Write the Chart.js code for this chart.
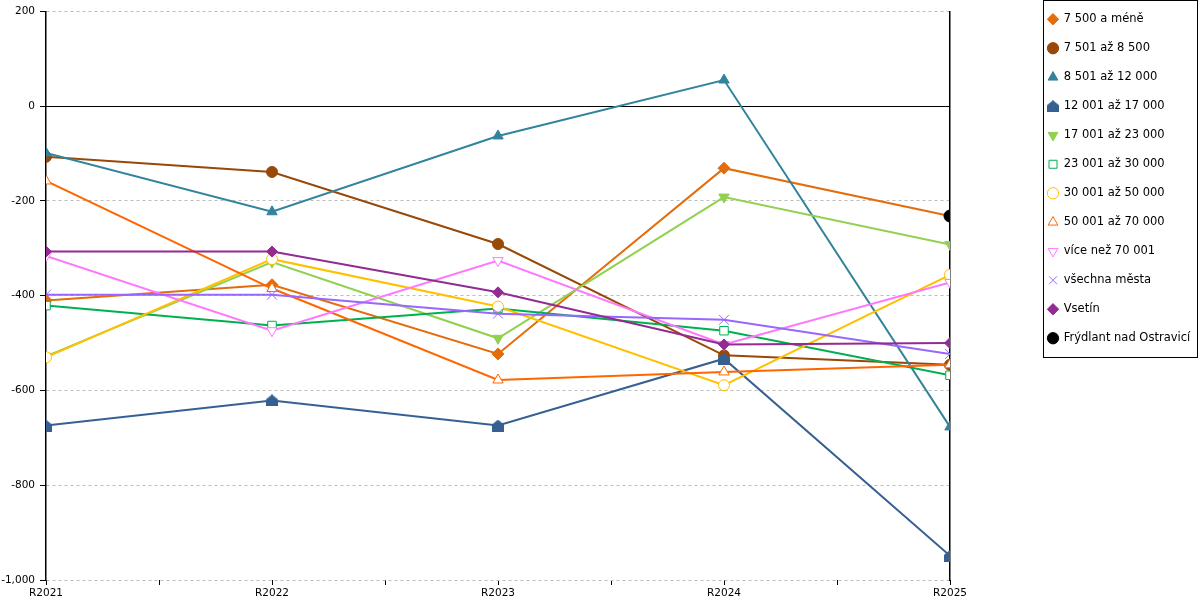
<!DOCTYPE html>
<html>
<head>
<meta charset="utf-8">
<script src="https://cdn.jsdelivr.net/npm/chart.js@4/dist/chart.umd.min.js"></script>
<style>
  html, body { margin: 0; padding: 0; background: #fff; }
  #wrap { width: 1200px; height: 600px; }
</style>
</head>
<body>
<div id="wrap"><canvas id="graf"></canvas></div>
<script>
// Kategorie a hodnoty
var roky = ["R2021", "R2022", "R2023", "R2024", "R2025"];
var yTicks = [200, 0, -200, -400, -600, -800, -1000];

var s7500 = [-410, -377, -523, -131, -232];
var s8500 = [-107, -139, -291, -526, -546];
var s12000 = [-99, -223, -63, 55, -677];
var s17000 = [-674, -621, -674, -533, -949];
var s23000 = [-528, -329, -490, -192, -292];
var s30000 = [-421, -463, -427, -474, -568];
var s50000 = [-530, -323, -423, -589, -356];
var s70000 = [-158, -385, -578, -561, -546];
var sVice = [-316, -474, -326, -503, -372];
var sVsechna = [-398, -398, -438, -451, -523];
var sVsetin = [-307, -307, -393, -503, -500];
var sFrydlant = [null, null, null, null, -232];

// domecek (12 001 až 17 000) jako vlastni znacka
function domecek(color, s) {
    var c = document.createElement("canvas");
    c.width = s; c.height = s;
    var g = c.getContext("2d");
    var h = s / 2;
    g.fillStyle = color;
    g.beginPath();
    g.moveTo(h, 0);
    g.lineTo(s, h - 1);
    g.lineTo(s, s);
    g.lineTo(0, s);
    g.lineTo(0, h - 1);
    g.closePath();
    g.fill();
    return c;
}

function body(arr) {
    return arr.map(function (v, i) { return { x: i, y: v }; });
}

function serie(label, arr, color, style, opts) {
    var ds = {
        label: label,
        data: body(arr),
        borderColor: color,
        backgroundColor: color,
        pointBorderColor: color,
        pointBackgroundColor: color,
        pointStyle: style,
        pointRadius: 6,
        pointHoverRadius: 6,
        pointBorderWidth: 1,
        borderWidth: 2,
        tension: 0,
        spanGaps: false
    };
    for (var k in opts) ds[k] = opts[k];
    return ds;
}

var datasets = [
    serie("7 500 a méně", s7500, "#E46C0A", "rectRot", {}),
    serie("7 501 až 8 500", s8500, "#984807", "circle", { pointRadius: 5.5 }),
    serie("8 501 až 12 000", s12000, "#31849B", "triangle", {}),
    serie("12 001 až 17 000", s17000, "#376092", domecek("#376092", 12), {}),
    serie("17 001 až 23 000", s23000, "#92D050", "triangle", { rotation: 180 }),
    serie("23 001 až 30 000", s30000, "#00B050", "rect", { pointBackgroundColor: "#fff", backgroundColor: "#fff" }),
    serie("30 001 až 50 000", s50000, "#FFC000", "circle", { pointBackgroundColor: "#fff", backgroundColor: "#fff", pointRadius: 5.5 }),
    serie("50 001 až 70 000", s70000, "#FF6600", "triangle", { pointBackgroundColor: "#fff", backgroundColor: "#fff" }),
    serie("více než 70 001", sVice, "#FF77FF", "triangle", { rotation: 180, pointBackgroundColor: "#fff", backgroundColor: "#fff" }),
    serie("všechna města", sVsechna, "#9966FF", "crossRot", { pointRadius: 7 }),
    serie("Vsetín", sVsetin, "#922B92", "rectRot", { pointRadius: 5.5 }),
    serie("Frýdlant nad Ostravicí", sFrydlant, "#000000", "circle", { showLine: false })
];
// pozdejsi serie kreslit navrch
datasets.forEach(function (d, i) { d.order = datasets.length - i; });

// nulova cara + ramecek legendy
var doplnky = {
    id: "doplnky",
    afterLayout: function (chart) {
        var lg = chart.legend;
        var dx = 1053 - (lg.left + lg.options.labels.padding + 5);
        lg.top -= 14;
        lg.bottom -= 14;
        lg.left += dx;
        lg.right += dx;
    },
    beforeDatasetsDraw: function (chart) {
        var ctx = chart.ctx, a = chart.chartArea;
        var y0 = Math.round(chart.scales.y.getPixelForValue(0)) + 0.5;
        ctx.save();
        ctx.strokeStyle = "#000";
        ctx.lineWidth = 1;
        ctx.beginPath();
        ctx.moveTo(a.left, y0);
        ctx.lineTo(a.right, y0);
        ctx.stroke();
        ctx.restore();
    },
    afterDraw: function (chart) {
        var ctx = chart.ctx;
        ctx.save();
        ctx.strokeStyle = "#000";
        ctx.lineWidth = 1;
        ctx.strokeRect(1043.5, 0.5, 154, 357);
        ctx.restore();
    }
};

var ctxGraf = document.getElementById("graf").getContext("2d");
var graf = new Chart(ctxGraf, {
    type: "line",
    data: { datasets: datasets },
    plugins: [doplnky],
    options: {
        responsive: true,
        maintainAspectRatio: false,
        animation: false,
        layout: { padding: { top: 10, bottom: 0, left: 0, right: 2 } },
        font: { family: "'DejaVu Sans', sans-serif", size: 12 },
        plugins: {
            tooltip: { enabled: false },
            legend: {
                position: "right",
                align: "start",
                labels: {
                    usePointStyle: true,
                    boxWidth: 10,
                    boxHeight: 8,
                    padding: 17.5,
                    color: "#000",
                    font: { family: "'DejaVu Sans', sans-serif", size: 11.5 },
                    sort: function (a, b) { return a.datasetIndex - b.datasetIndex; }
                }
            }
        },
        scales: {
            x: {
                type: "linear",
                min: 0,
                max: 4,
                afterBuildTicks: function (scale) {
                    var t = [];
                    for (var i = 0; i <= (roky.length - 1) * 2; i++) t.push({ value: i / 2 });
                    scale.ticks = t;
                },
                afterFit: function (scale) { scale.height = 20; },
                ticks: {
                    autoSkip: false,
                    maxRotation: 0,
                    padding: 2,
                    color: "#000",
                    font: { family: "'DejaVu Sans', sans-serif", size: 10.5 },
                    callback: function (v) { return Number.isInteger(v) ? roky[v] : ""; }
                },
                grid: { drawOnChartArea: false, tickLength: 5, tickColor: "#000" },
                border: { display: false }
            },
            y: {
                min: -1000,
                max: 200,
                afterBuildTicks: function (scale) {
                    scale.ticks = yTicks.map(function (v) { return { value: v }; });
                },
                afterFit: function (scale) { scale.width = 46; },
                ticks: {
                    padding: 5,
                    color: "#000",
                    font: { family: "'DejaVu Sans', sans-serif", size: 10.5 }
                },
                grid: { color: "#BDBDBD", tickColor: "#000", tickLength: 6, lineWidth: 1 },
                border: { display: true, color: "#000", width: 1.5, dash: [3, 3] }
            },
            y2: {
                position: "right",
                min: -1000,
                max: 200,
                afterFit: function (scale) {
                    scale.width = Math.max(0, 1200 - 2 - scale.chart.legend.width - 950);
                },
                ticks: { display: false },
                grid: { display: false },
                border: { display: true, color: "#000", width: 1.5 }
            }
        }
    }
});
</script>
</body>
</html>
